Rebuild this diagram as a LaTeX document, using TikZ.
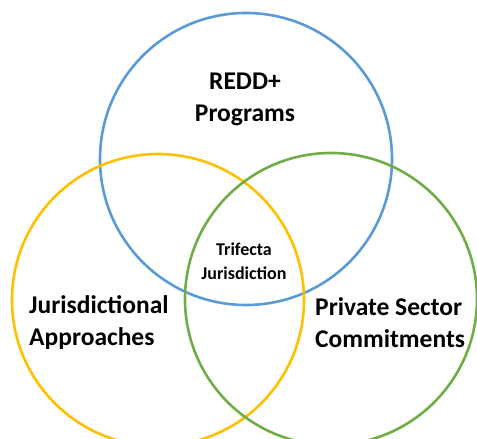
\documentclass[tikz,border=0pt]{standalone}
\usepackage{fontspec}
\setmainfont{Carlito}
\usepackage{xcolor}
\usetikzlibrary{positioning}
\definecolor{ringblue}{HTML}{5B9BD5}
\definecolor{ringyellow}{HTML}{FFC000}
\definecolor{ringgreen}{HTML}{70AD47}

\begin{document}
\begin{tikzpicture}[x=1pt, y=-1pt,
        ring/.style={draw, circle, line width=2.6pt, minimum size=292pt, inner sep=0pt},
        biglabel/.style={font=\fontsize{25.5}{32}\selectfont\bfseries, inner sep=0pt},
        smalllabel/.style={font=\fontsize{18}{24}\selectfont\bfseries, inner sep=0pt}]
        \useasboundingbox (0,0) rectangle (477,439);

        \node [ring, draw=ringblue] (Redd) at (246,159) {};
        \node [ring, draw=ringyellow] (Juris) at (158,300) {};
        \node [ring, draw=ringgreen] (Private) at (331,299) {};

        \node [biglabel, align=center] (ReddText) at (245,99) {REDD+\\Programs};
        \node [smalllabel, align=center] (TriText) at (244,261) {Trifecta\\Jurisdiction};
        \node [biglabel, align=left, anchor=west] (JurisText) at (29,323) {Jurisdictional\\Approaches};
        \node [biglabel, align=left, anchor=west] (PrivateText) at (315,323) {Private Sector\\Commitments};
\end{tikzpicture}
\end{document}
